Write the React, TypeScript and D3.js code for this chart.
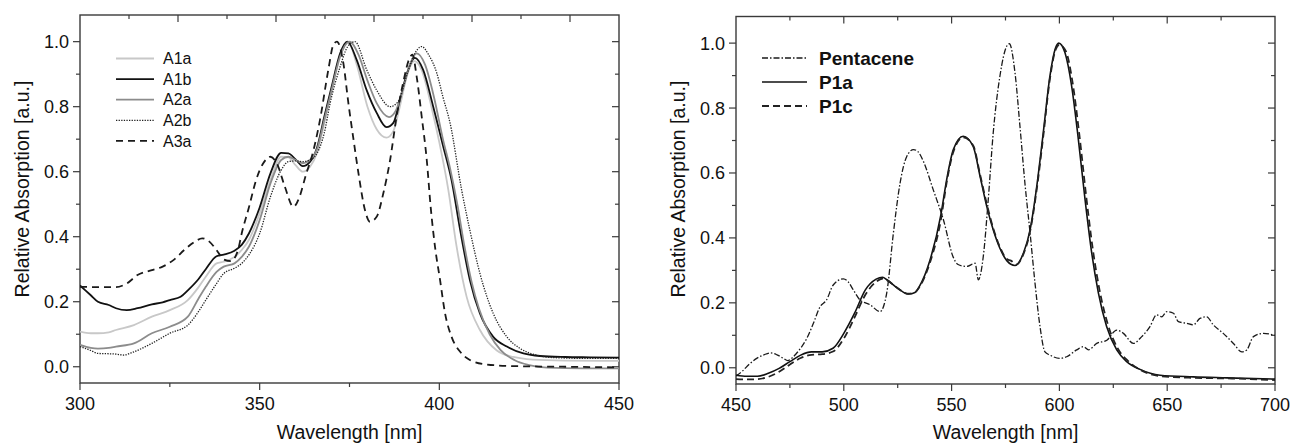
import React, { useEffect, useRef } from 'react';
import * as d3 from 'd3';

// wavelength [nm], relative absorption
const a1a: [number, number][] = [
  [300, 0.108], [303, 0.103], [305, 0.103], [308, 0.106], [310, 0.113], [315, 0.128], [320, 0.154],
  [325, 0.174], [330, 0.205], [333, 0.245], [335, 0.277], [338, 0.318], [340, 0.323], [343, 0.338],
  [345, 0.359], [347, 0.39], [350, 0.472], [353, 0.574], [356, 0.646], [358, 0.644], [360, 0.62],
  [362, 0.6], [364, 0.615], [366, 0.66], [368, 0.75], [370, 0.85], [372.4, 0.955], [374.6, 1.0],
  [377, 0.93], [380, 0.8], [382.6, 0.73], [385.3, 0.705], [387.2, 0.725], [389, 0.8], [391, 0.895],
  [393, 0.94], [395, 0.915], [398, 0.79], [400, 0.69], [402.5, 0.544], [404.8, 0.37], [407.6, 0.215],
  [411.3, 0.113], [416, 0.05], [420.6, 0.03], [426, 0.022], [435, 0.019], [450, 0.018],
];
const a1b: [number, number][] = [
  [300, 0.25], [303, 0.22], [305, 0.2], [308, 0.19], [310, 0.18], [313, 0.174], [316, 0.18],
  [320, 0.192], [323, 0.198], [325, 0.205], [328, 0.215], [330, 0.235], [333, 0.27], [335, 0.3],
  [338, 0.34], [340, 0.345], [343, 0.357], [345, 0.375], [347, 0.41], [350, 0.49], [353, 0.595],
  [356, 0.658], [358, 0.656], [360, 0.638], [362, 0.617], [364, 0.63], [366, 0.675], [368, 0.77],
  [370, 0.86], [372.4, 0.964], [374.4, 1.0], [377, 0.944], [379.8, 0.85], [382.6, 0.78],
  [385.3, 0.737], [387.2, 0.75], [389, 0.82], [391, 0.903], [393.2, 0.95], [395.5, 0.913],
  [398.3, 0.8], [401.1, 0.677], [403.4, 0.574], [405.8, 0.42], [408.5, 0.267], [411.3, 0.164],
  [415, 0.092], [418.8, 0.062], [423.4, 0.041], [428, 0.033], [435, 0.03], [442, 0.029], [450, 0.028],
];
const a2a: [number, number][] = [
  [300, 0.067], [303, 0.058], [305, 0.056], [308, 0.058], [310, 0.062], [315, 0.072], [320, 0.103],
  [325, 0.123], [330, 0.154], [333, 0.21], [335, 0.246], [338, 0.292], [340, 0.308], [343, 0.318],
  [345, 0.338], [347, 0.369], [350, 0.451], [353, 0.564], [356, 0.636], [358, 0.646], [360, 0.636],
  [362, 0.626], [364, 0.636], [366, 0.67], [368, 0.76], [370, 0.85], [372.4, 0.955], [375, 1.0],
  [377.5, 0.96], [380, 0.88], [382.6, 0.81], [386, 0.768], [388, 0.79], [390, 0.86], [392, 0.935],
  [393.7, 0.964], [396, 0.93], [398.5, 0.83], [401, 0.7], [403, 0.61], [405, 0.5], [407, 0.37],
  [409, 0.26], [411, 0.18], [414, 0.1], [417, 0.052], [421, 0.02], [425, 0.005], [430, -0.003],
  [440, -0.005], [450, -0.005],
];
const a2b: [number, number][] = [
  [300, 0.062], [303, 0.05], [305, 0.041], [308, 0.04], [310, 0.039], [312, 0.036], [315, 0.046],
  [320, 0.072], [325, 0.103], [330, 0.128], [333, 0.17], [335, 0.205], [338, 0.256], [340, 0.287],
  [343, 0.303], [345, 0.318], [347, 0.344], [350, 0.41], [353, 0.523], [356, 0.605], [358, 0.631],
  [360, 0.633], [362, 0.631], [364, 0.636], [366, 0.657], [368, 0.72], [369.6, 0.81], [372.4, 0.923],
  [374.5, 0.985], [376.5, 1.0], [379.8, 0.913], [382.6, 0.85], [386.3, 0.8], [388.5, 0.815],
  [391, 0.9], [393, 0.96], [395.1, 0.985], [397, 0.96], [399.3, 0.903], [401, 0.83], [403, 0.749],
  [406.2, 0.544], [408.5, 0.42], [411.3, 0.287], [415, 0.164], [418.8, 0.092], [422.5, 0.056],
  [427, 0.036], [432, 0.028], [440, 0.026], [450, 0.026],
];
const a3a: [number, number][] = [
  [300, 0.246], [305, 0.245], [310, 0.245], [313, 0.256], [316, 0.282], [320, 0.297], [323, 0.308],
  [326, 0.328], [329, 0.359], [332, 0.385], [334, 0.395], [336, 0.385], [338, 0.359], [340, 0.33],
  [342, 0.325], [344, 0.36], [345, 0.41], [347, 0.49], [349, 0.574], [351, 0.626], [353, 0.646],
  [355, 0.62], [357, 0.554], [359.4, 0.492], [361, 0.52], [363, 0.595], [364.5, 0.646],
  [366.8, 0.76], [369.1, 0.913], [370.5, 0.99], [371.5, 1.0], [373.3, 0.933], [374.7, 0.81],
  [376, 0.708], [377.5, 0.595], [379.3, 0.482], [380.7, 0.446], [382.6, 0.462], [384.4, 0.533],
  [386.3, 0.636], [388.1, 0.769], [389.9, 0.872], [391.7, 0.949], [392.5, 0.96], [393.7, 0.892],
  [395.1, 0.769], [396.5, 0.636], [397.6, 0.49], [398.8, 0.369], [400.2, 0.267], [401.6, 0.164],
  [403.4, 0.092], [405.8, 0.046], [408.5, 0.021], [413.2, 0.007], [420.6, 0.002], [435, 0.0],
  [450, -0.002],
];

const pentacene: [number, number][] = [
  [450, -0.025], [453, -0.01], [456, 0.01], [459.6, 0.029], [463, 0.04], [466, 0.046], [469, 0.04],
  [472, 0.029], [474, 0.022], [476, 0.03], [478, 0.044], [480.5, 0.065], [482.8, 0.09],
  [485.9, 0.137], [489, 0.188], [492, 0.209], [495.1, 0.255], [499.8, 0.274], [502, 0.265],
  [504.4, 0.24], [507.5, 0.209], [512.2, 0.194], [516.8, 0.173], [519.9, 0.23], [523, 0.415],
  [526.1, 0.569], [529.2, 0.651], [532.3, 0.672], [534.5, 0.665], [536.9, 0.636], [541.5, 0.548],
  [546.2, 0.456], [550.8, 0.34], [553, 0.318], [557, 0.312], [560.9, 0.322], [562.4, 0.271],
  [564.7, 0.343], [567, 0.518], [569.3, 0.723], [572.4, 0.898], [575.6, 0.991], [576.8, 0.998],
  [579.4, 0.909], [581.7, 0.744], [584, 0.569], [586.4, 0.415], [588.7, 0.26], [591, 0.127],
  [593.3, 0.049], [595.6, 0.039], [600.3, 0.029], [603.4, 0.034], [608, 0.055], [611.2, 0.065],
  [613.5, 0.055], [617.3, 0.075], [622, 0.085], [626.6, 0.116], [629.7, 0.106], [634.3, 0.075],
  [638.2, 0.096], [642, 0.127], [645.1, 0.163], [647.5, 0.157], [649.8, 0.173], [652.9, 0.168],
  [655.2, 0.142], [659, 0.137], [662.1, 0.132], [665.2, 0.152], [668.3, 0.157], [671.4, 0.132],
  [676, 0.106], [680.7, 0.075], [684.6, 0.049], [686.9, 0.055], [690, 0.096], [694.6, 0.106],
  [700, 0.1],
];
const p1a: [number, number][] = [
  [450, -0.023], [455, -0.026], [460, -0.026], [465, -0.017], [470, -0.002], [475, 0.019],
  [480, 0.039], [485, 0.049], [490, 0.049], [495, 0.06], [500, 0.106], [505, 0.168], [510, 0.24],
  [515, 0.273], [518, 0.279], [520, 0.271], [525, 0.245], [530, 0.227], [533, 0.232], [535, 0.25],
  [540, 0.332], [545, 0.47], [547.7, 0.579], [550.8, 0.672], [555.4, 0.713], [560, 0.682],
  [563.2, 0.59], [566.3, 0.497], [569.3, 0.425], [572.4, 0.368], [575.6, 0.33], [579.4, 0.315],
  [583.3, 0.353], [586.4, 0.425], [589.5, 0.559], [592.5, 0.723], [595.6, 0.898], [598, 0.981],
  [599.7, 1.0], [602.6, 0.97], [605.7, 0.867], [608.8, 0.703], [611.9, 0.518], [615, 0.353],
  [618.1, 0.23], [621.9, 0.127], [626.6, 0.055], [631.2, 0.019], [637.4, -0.005], [646.7, -0.023],
  [662.1, -0.028], [677.6, -0.031], [700, -0.035],
];
const p1c: [number, number][] = [
  [450, -0.035], [455, -0.036], [460, -0.035], [465, -0.028], [470, -0.012], [475, 0.01],
  [480, 0.03], [485, 0.04], [490, 0.042], [495, 0.05], [500, 0.09], [505, 0.155], [510, 0.225],
  [515, 0.265], [518, 0.275], [520, 0.27], [525, 0.245], [530, 0.228], [533, 0.232], [535, 0.248],
  [540, 0.325], [545, 0.455], [547.7, 0.57], [550.8, 0.665], [555.4, 0.71], [560, 0.685],
  [563.2, 0.595], [566.3, 0.505], [569.3, 0.43], [572.4, 0.372], [575.6, 0.335], [577.5, 0.33],
  [580, 0.318], [583.3, 0.35], [586.4, 0.42], [589.5, 0.55], [592.5, 0.712], [595.6, 0.89],
  [598, 0.975], [600, 0.995], [603, 0.975], [606.2, 0.875], [609.3, 0.715], [612.4, 0.53],
  [615.5, 0.365], [618.6, 0.24], [622.4, 0.135], [627, 0.06], [632, 0.02], [638, -0.008],
  [647, -0.026], [662, -0.031], [680, -0.033], [700, -0.038],
];

const leftSeries = [
  { name: 'A1a', data: a1a, color: '#c8c8c8', width: 1.8, dash: null },
  { name: 'A1b', data: a1b, color: '#111111', width: 1.8, dash: null },
  { name: 'A2a', data: a2a, color: '#8c8c8c', width: 1.8, dash: null },
  { name: 'A2b', data: a2b, color: '#222222', width: 1.3, dash: '1.3,1.3' },
  { name: 'A3a', data: a3a, color: '#1a1a1a', width: 1.8, dash: '7,5' },
];
const rightSeries = [
  { name: 'Pentacene', data: pentacene, color: '#1a1a1a', width: 1.3, dash: '6,2,1.5,2' },
  { name: 'P1a', data: p1a, color: '#111111', width: 1.6, dash: null },
  { name: 'P1c', data: p1c, color: '#222222', width: 1.8, dash: '7,4' },
];

const yDomain = [-0.05, 1.082];
const yTicks = [0, 0.2, 0.4, 0.6, 0.8, 1.0];
const yMinor = [0.1, 0.3, 0.5, 0.7, 0.9];

const FONT = '"Liberation Sans", Arial, Helvetica, sans-serif';

function drawPanel(g, opts) {
  const { x0, x1, y0, y1, xDomain, xTicks, xMinor, topTicks, series, legend } = opts;
  const x = d3.scaleLinear().domain(xDomain).range([x0, x1]);
  const y = d3.scaleLinear().domain(yDomain).range([y1, y0]);
  const axisColor = '#3a3a3a';

  // frame
  g.append('rect')
    .attr('x', x0).attr('y', y0)
    .attr('width', x1 - x0).attr('height', y1 - y0)
    .attr('fill', 'none').attr('stroke', axisColor).attr('stroke-width', 1.4);

  // bottom ticks (outward)
  xTicks.forEach(t => {
    g.append('line').attr('x1', x(t)).attr('x2', x(t)).attr('y1', y1).attr('y2', y1 + 7)
      .attr('stroke', axisColor).attr('stroke-width', 1.2);
    g.append('text').attr('x', x(t)).attr('y', y1 + 27).attr('text-anchor', 'middle')
      .attr('font-size', 18).attr('font-family', FONT).attr('fill', '#111').text(t);
  });
  xMinor.forEach(t => {
    g.append('line').attr('x1', x(t)).attr('x2', x(t)).attr('y1', y1).attr('y2', y1 + 4)
      .attr('stroke', axisColor).attr('stroke-width', 1.2);
  });

  // top ticks (inward)
  const xt = d3.scaleLinear().domain([0, topTicks.n]).range([x0, x1]);
  d3.range(1, topTicks.n).forEach(i => {
    const major = topTicks.majorEvery ? i % topTicks.majorEvery === 0 : true;
    g.append('line').attr('x1', xt(i)).attr('x2', xt(i)).attr('y1', y0).attr('y2', y0 + (major ? 7 : 4))
      .attr('stroke', axisColor).attr('stroke-width', 1.2);
  });

  // left ticks (outward) and right ticks (inward)
  yTicks.forEach(t => {
    g.append('line').attr('x1', x0 - 7).attr('x2', x0).attr('y1', y(t)).attr('y2', y(t))
      .attr('stroke', axisColor).attr('stroke-width', 1.2);
    g.append('line').attr('x1', x1 - 7).attr('x2', x1).attr('y1', y(t)).attr('y2', y(t))
      .attr('stroke', axisColor).attr('stroke-width', 1.2);
    g.append('text').attr('x', x0 - 11).attr('y', y(t)).attr('dy', '0.36em').attr('text-anchor', 'end')
      .attr('font-size', 18).attr('font-family', FONT).attr('fill', '#111').text(d3.format('.1f')(t));
  });
  yMinor.forEach(t => {
    g.append('line').attr('x1', x0 - 4).attr('x2', x0).attr('y1', y(t)).attr('y2', y(t))
      .attr('stroke', axisColor).attr('stroke-width', 1.2);
    g.append('line').attr('x1', x1 - 4).attr('x2', x1).attr('y1', y(t)).attr('y2', y(t))
      .attr('stroke', axisColor).attr('stroke-width', 1.2);
  });

  // titles
  g.append('text').attr('x', (x0 + x1) / 2).attr('y', 439).attr('text-anchor', 'middle')
    .attr('font-size', 19.5).attr('font-family', FONT).attr('fill', '#111').text('Wavelength [nm]');
  g.append('text')
    .attr('transform', `translate(${opts.titleX},189) rotate(-90)`)
    .attr('text-anchor', 'middle').attr('dy', '0.35em')
    .attr('font-size', 19.5).attr('font-family', FONT).attr('fill', '#111')
    .text('Relative Absorption [a.u.]');

  // curves
  const clipId = 'clip' + x0;
  g.append('clipPath').attr('id', clipId).append('rect')
    .attr('x', x0).attr('y', y0).attr('width', x1 - x0).attr('height', y1 - y0);
  const line = d3.line<[number, number]>()
    .x(d => x(d[0])).y(d => y(d[1]))
    .curve(d3.curveMonotoneX);
  series.forEach(s => {
    g.append('path').attr('d', line(s.data)).attr('clip-path', `url(#${clipId})`)
      .attr('fill', 'none').attr('stroke', s.color).attr('stroke-width', s.width)
      .attr('stroke-dasharray', s.dash).attr('stroke-linejoin', 'round');
  });

  // legend
  series.forEach((s, i) => {
    const ly = legend.y + i * legend.step;
    g.append('line').attr('x1', legend.x).attr('x2', legend.x + legend.len).attr('y1', ly).attr('y2', ly)
      .attr('stroke', s.color).attr('stroke-width', s.width).attr('stroke-dasharray', s.dash);
    g.append('text').attr('x', legend.tx).attr('y', ly).attr('dy', '0.36em')
      .attr('font-size', legend.size).attr('font-weight', legend.bold ? 'bold' : 'normal')
      .attr('font-family', FONT).attr('fill', '#111').text(s.name);
  });
}

export default function App() {
  const ref = useRef<SVGSVGElement>(null);

  useEffect(() => {
    const svg = d3.select(ref.current);
    svg.selectAll('*').remove();

    drawPanel(svg.append('g'), {
      x0: 80, x1: 619, y0: 15, y1: 383,
      xDomain: [300, 450],
      xTicks: [300, 350, 400, 450],
      xMinor: [325, 375, 425],
      topTicks: { n: 11, majorEvery: 2 },
      series: leftSeries,
      titleX: 22,
      legend: { x: 116, len: 38, tx: 163, y: 58.5, step: 20.6, size: 16, bold: false },
    });

    drawPanel(svg.append('g'), {
      x0: 736, x1: 1275, y0: 16.5, y1: 384,
      xDomain: [450, 700],
      xTicks: [450, 500, 550, 600, 650, 700],
      xMinor: [475, 525, 575, 625, 675],
      topTicks: { n: 10, majorEvery: 2 },
      series: rightSeries,
      titleX: 678,
      legend: { x: 762, len: 45, tx: 819, y: 58, step: 24, size: 19, bold: true },
    });
  }, []);

  return (
    <svg ref={ref} width={1292} height={444}
      style={{ position: 'absolute', left: 0, top: 0, background: '#fff' }} />
  );
}
